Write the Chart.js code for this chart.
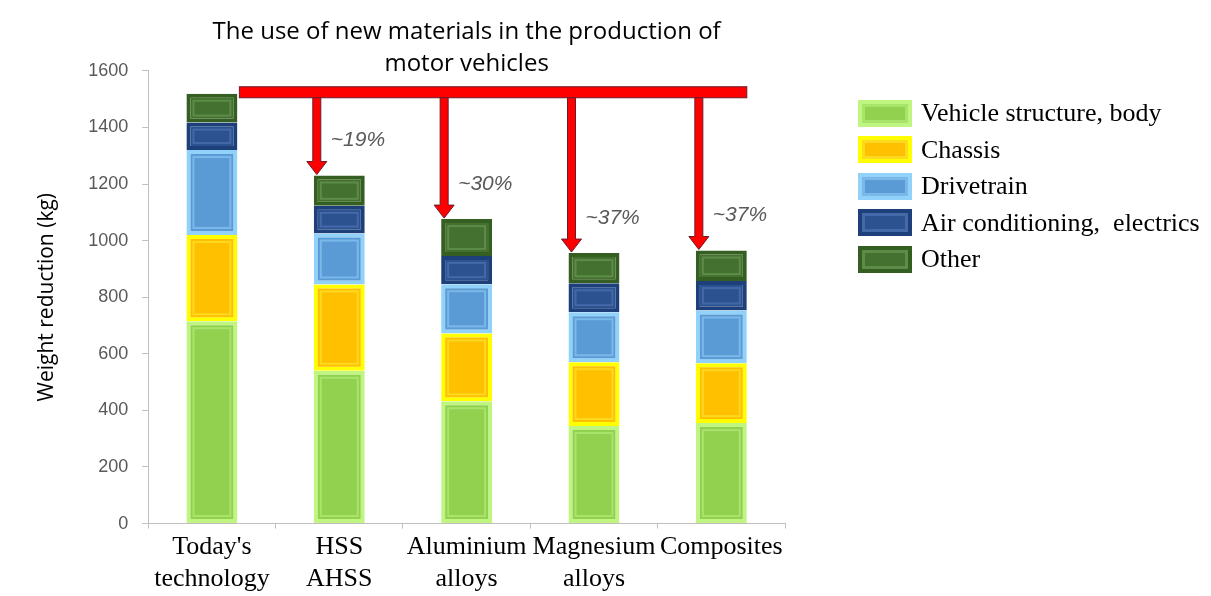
<!DOCTYPE html>
<html>
<head>
<meta charset="utf-8">
<script src="https://cdn.jsdelivr.net/npm/chart.js@4/dist/chart.umd.min.js"></script>
<style>
  html, body { margin: 0; padding: 0; background: #fff; }
  #wrap { position: relative; width: 1211px; height: 596px; }
  #legend { position: absolute; left: 858px; top: 95px; font-family: "Liberation Serif", serif; font-size: 26px; color: #000; }
  .item { display: flex; align-items: center; height: 36.5px; white-space: pre; }
  .swatch { box-sizing: border-box; width: 54px; height: 27px; margin-right: 9px; border-width: 4px; border-style: solid; }
</style>
</head>
<body>
<div id="wrap">
  <canvas id="weightChart" width="1211" height="596"></canvas>
  <div id="legend"></div>
</div>
<script>
// categories and values (kg)
const categories = [["Today's", "technology"], ["HSS", "AHSS"], ["Aluminium", "alloys"], ["Magnesium", "alloys"], "Composites"];
const bodyKg = [715, 540, 432, 345, 355];
const chassisKg = [305, 305, 240, 225, 212];
const drivetrainKg = [300, 180, 174, 177, 186];
const airKg = [97, 98, 100, 102, 104];
const otherKg = [102, 107, 130, 107, 108];
const reductionLabels = ["", "~19%", "~30%", "~37%", "~37%"];
const yTicks = [0, 200, 400, 600, 800, 1000, 1200, 1400, 1600];

const seriesNames = ["Vehicle structure, body", "Chassis", "Drivetrain", "Air conditioning,  electrics", "Other"];
// fill, outer border, inner bevel line
const seriesColors = [
    ["#92d050", "#c0f582", "#a9e46a"],
    ["#ffc000", "#ffff00", "#ffd820"],
    ["#5b9bd5", "#91d2fb", "#7bb8ea"],
    ["#2c5290", "#1d3f7a", "#4569a8"],
    ["#44712f", "#355f22", "#5d8c48"],
];
const seriesData = [bodyKg, chassisKg, drivetrainKg, airKg, otherKg];

const datasets = seriesNames.map((name, i) => ({
    label: name,
    data: seriesData[i],
    backgroundColor: seriesColors[i][0],
    borderColor: seriesColors[i][1],
    borderWidth: 4,
    borderSkipped: false,
    barPercentage: 0.4,
    categoryPercentage: 1.0,
}));

// inner bevel line on every segment
const bevelPlugin = {
    id: "bevel",
    afterDatasetsDraw(chart) {
        const ctx = chart.ctx;
        chart.data.datasets.forEach((ds, di) => {
            chart.getDatasetMeta(di).data.forEach(bar => {
                const p = bar.getProps(["x", "y", "base", "width"], true);
                const top = Math.min(p.y, p.base), h = Math.abs(p.base - p.y);
                if (h < 16) return;
                ctx.save();
                ctx.strokeStyle = seriesColors[di][2];
                ctx.lineWidth = 2;
                ctx.strokeRect(p.x - p.width / 2 + 7, top + 7, p.width - 14, h - 14);
                ctx.restore();
            });
        });
    }
};

// red bar with arrows down to each new material stack
const arrowPlugin = {
    id: "arrows",
    afterDatasetsDraw(chart) {
        const ctx = chart.ctx;
        const xs = chart.scales.x, ys = chart.scales.y;
        const meta = chart.getDatasetMeta(0);
        const w = meta.data[0].width;
        const totals = categories.map((c, i) => seriesData.reduce((s, arr) => s + arr[i], 0));
        const barTop = ys.getPixelForValue(totals[0]) - 7;
        const barLeft = xs.getPixelForValue(0) + w / 2 + 2;
        const barRight = xs.getPixelForValue(categories.length - 1) + w / 2;
        ctx.save();
        ctx.fillStyle = "#ff0000";
        ctx.strokeStyle = "#6b1a2a";
        ctx.lineWidth = 1;
        ctx.fillRect(barLeft, barTop, barRight - barLeft, 11);
        ctx.strokeRect(barLeft, barTop, barRight - barLeft, 11);
        for (let i = 1; i < categories.length; i++) {
            const ax = xs.getPixelForValue(i) - w / 2 + 3;
            const tip = ys.getPixelForValue(totals[i]) - 1;
            ctx.beginPath();
            ctx.moveTo(ax - 4, barTop + 11);
            ctx.lineTo(ax - 4, tip - 13);
            ctx.lineTo(ax - 10, tip - 13);
            ctx.lineTo(ax, tip);
            ctx.lineTo(ax + 10, tip - 13);
            ctx.lineTo(ax + 4, tip - 13);
            ctx.lineTo(ax + 4, barTop + 11);
            ctx.closePath();
            ctx.fill();
            ctx.stroke();
            ctx.fillStyle = "#595959";
            ctx.font = "italic 21px 'Liberation Sans'";
            ctx.textAlign = "left";
            ctx.textBaseline = "middle";
            ctx.fillText(reductionLabels[i], ax + 14, tip - 34);
            ctx.fillStyle = "#ff0000";
        }
        ctx.restore();
    }
};

const config = {
    type: "bar",
    data: { labels: categories, datasets: datasets },
    options: {
        responsive: false,
        animation: false,
        layout: { padding: { left: 11, right: 426, top: 0, bottom: -2 } },
        scales: {
            x: {
                stacked: true,
                grid: { display: true, drawOnChartArea: false, tickLength: 5, color: "#bfbfbf" },
                border: { color: "#bfbfbf" },
                ticks: {
                    color: "#000",
                    font: { family: "'Liberation Serif'", size: 26, lineHeight: 1.22 },
                    padding: 3,
                    maxRotation: 0,
                    autoSkip: false,
                },
            },
            y: {
                stacked: true,
                min: 0,
                max: 1600,
                afterBuildTicks: axis => { axis.ticks = yTicks.map(v => ({ value: v })); },
                grid: { drawOnChartArea: false, tickLength: 6, color: "#bfbfbf" },
                border: { color: "#bfbfbf" },
                ticks: {
                    color: "#595959",
                    font: { family: "'Liberation Sans'", size: 18 },
                    padding: 14,
                    callback: value => String(value),
                },
                title: {
                    display: true,
                    text: "Weight reduction (kg)",
                    color: "#000",
                    font: { family: "'Open Sans'", size: 21 },
                    padding: { top: 23, bottom: 15 },
                },
            },
        },
        plugins: {
            legend: { display: false },
            tooltip: { enabled: false },
            title: {
                display: true,
                fullSize: false,
                text: ["The use of new materials in the production of", "motor vehicles"],
                color: "#000",
                font: { family: "'Open Sans'", size: 24, weight: "normal", lineHeight: 1.33 },
                padding: { top: 16, bottom: -9 },
            },
        },
    },
    plugins: [bevelPlugin, arrowPlugin],
};

const chartInstance = new Chart(document.getElementById("weightChart").getContext("2d"), config);

// legend built from the same series
const legendBox = document.getElementById("legend");
seriesNames.forEach((name, i) => {
    const row = document.createElement("div");
    row.className = "item";
    const sw = document.createElement("span");
    sw.className = "swatch";
    sw.style.background = seriesColors[i][0];
    sw.style.borderColor = seriesColors[i][1];
    sw.style.boxShadow = "inset 0 0 0 3px " + seriesColors[i][2];
    const label = document.createElement("span");
    label.textContent = name;
    row.appendChild(sw);
    row.appendChild(label);
    legendBox.appendChild(row);
});
</script>
</body>
</html>
